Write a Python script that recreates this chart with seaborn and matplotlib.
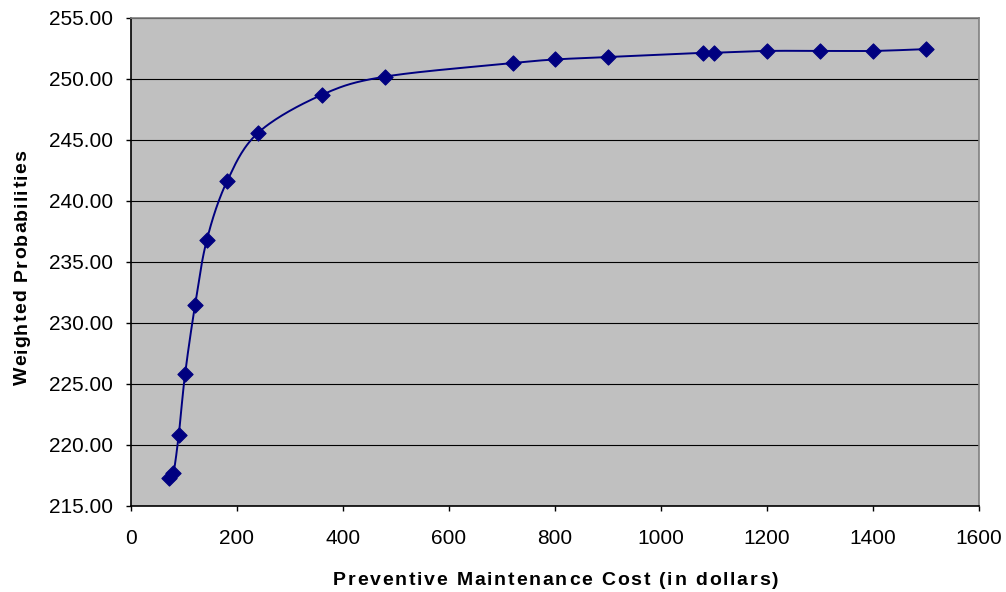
import numpy as np
import pandas as pd
import matplotlib
matplotlib.use("Agg")
import matplotlib.pyplot as plt
import seaborn as sns
from matplotlib.ticker import FormatStrFormatter
from matplotlib.font_manager import FontProperties

# Preventive maintenance cost (dollars) vs. weighted probabilities
cost = [72, 80, 90, 102, 121, 143, 181, 240, 360, 480, 720, 800, 900,
        1080, 1100, 1200, 1300, 1400, 1500]
weighted_prob = [217.3, 217.7, 220.8, 225.8, 231.5, 236.8, 241.6, 245.6,
                 248.7, 250.2, 251.3, 251.6, 251.8,
                 252.15, 252.15, 252.3, 252.3, 252.3, 252.45]

x_ticks = [0, 200, 400, 600, 800, 1000, 1200, 1400, 1600]
y_ticks = [215, 220, 225, 230, 235, 240, 245, 250, 255]

x_title = "Preventive Maintenance Cost (in dollars)"
y_title = "Weighted Probabilities"

df = pd.DataFrame({"cost": cost, "prob": weighted_prob})

sns.set_theme(style="white")
plt.rcParams["font.family"] = ["Liberation Sans", "DejaVu Sans"]

W, H = 1006, 592
fig = plt.figure(figsize=(W / 100, H / 100), dpi=100)
ax = fig.add_axes([131 / W, 86 / H, 848 / W, 488 / H])
ax.set_facecolor("#C0C0C0")

xlim = (x_ticks[0], x_ticks[-1])
ylim = (y_ticks[0], y_ticks[-1])
ax.set_xlim(*xlim)
ax.set_ylim(*ylim)

# Smoothed connecting curve: cubic Bezier segments (Catmull-Rom style)
# computed in screen-proportional space so the curve looks even.
sx = 848 / (xlim[1] - xlim[0])
sy = 488 / (ylim[1] - ylim[0])
P = np.column_stack([np.asarray(cost, float) * sx, np.asarray(weighted_prob, float) * sy])
n = len(P)
t = np.linspace(0, 1, 30)
curve = []
for i in range(n - 1):
    p0 = P[max(i - 1, 0)]
    p1 = P[i]
    p2 = P[i + 1]
    p3 = P[min(i + 2, n - 1)]
    c1 = p1 + (p2 - p0) / 6.0
    c2 = p2 - (p3 - p1) / 6.0
    seg = ((1 - t)[:, None] ** 3 * p1 + 3 * ((1 - t) ** 2 * t)[:, None] * c1
           + 3 * ((1 - t) * t ** 2)[:, None] * c2 + (t ** 3)[:, None] * p2)
    curve.append(seg if i == 0 else seg[1:])
curve = np.vstack(curve)
smooth = pd.DataFrame({"cost": curve[:, 0] / sx, "prob": curve[:, 1] / sy})

sns.lineplot(data=smooth, x="cost", y="prob", sort=False, estimator=None,
             color="#000080", linewidth=1.4, ax=ax, zorder=3)
sns.scatterplot(data=df, x="cost", y="prob", marker="D", s=60,
                color="#000080", edgecolor="#000080", linewidth=0.8,
                ax=ax, zorder=4)

ax.set_xticks(x_ticks)
ax.set_yticks(y_ticks)
ax.yaxis.set_major_formatter(FormatStrFormatter("%.2f"))
ax.yaxis.grid(True, color="#000000", linewidth=0.8)
ax.xaxis.grid(False)
ax.set_axisbelow(True)

ax.tick_params(axis="both", which="major", direction="out", length=3.6,
               width=1, color="#000000", labelsize=15, labelcolor="#000000",
               left=True, bottom=True)
ax.tick_params(axis="y", pad=9.2)
ax.tick_params(axis="x", pad=13)

for side in ["left", "bottom"]:
    ax.spines[side].set_color("#000000")
    ax.spines[side].set_linewidth(1.2)
for side in ["top", "right"]:
    ax.spines[side].set_color("#808080")
    ax.spines[side].set_linewidth(1.2)

ax.set_xlabel("")
ax.set_ylabel("")

# Axis titles drawn with letter tracking (wide bold lettering)
renderer = fig.canvas.get_renderer()
title_font = FontProperties(family="Liberation Sans", weight="bold", size=14)


def advance(ch):
    w2, _, _ = renderer.get_text_width_height_descent("xx", title_font, ismath=False)
    w3, _, _ = renderer.get_text_width_height_descent("x" + ch + "x", title_font, ismath=False)
    return w3 - w2


def tracked_title(text, center, baseline, span, vertical=False):
    adv = [advance(c) for c in text]
    extra = (span - sum(adv)) / (len(text) - 1)
    pos = center - span / 2
    for c, a in zip(text, adv):
        if c != " ":
            if vertical:
                fig.text(baseline / W, 1 - pos / H, c, fontproperties=title_font,
                         rotation=90, rotation_mode="anchor", ha="left",
                         va="baseline", color="#000000")
            else:
                fig.text(pos / W, 1 - baseline / H, c, fontproperties=title_font,
                         ha="left", va="baseline", color="#000000")
        pos += a + extra


tracked_title(x_title, center=555.5, baseline=585, span=445)
# vertical title reads bottom to top: positions measured upward from the bottom
def tracked_vertical(text, center_y, baseline_x, span):
    adv = [advance(c) for c in text]
    extra = (span - sum(adv)) / (len(text) - 1)
    pos = center_y + span / 2  # bottom end in pixels from top
    for c, a in zip(text, adv):
        if c != " ":
            fig.text(baseline_x / W, 1 - pos / H, c, fontproperties=title_font,
                     rotation=90, rotation_mode="anchor", ha="left",
                     va="baseline", color="#000000")
        pos -= a + extra


tracked_vertical(y_title, center_y=267.5, baseline_x=26.5, span=235)

fig.savefig("out.png", dpi=100, facecolor="white")
